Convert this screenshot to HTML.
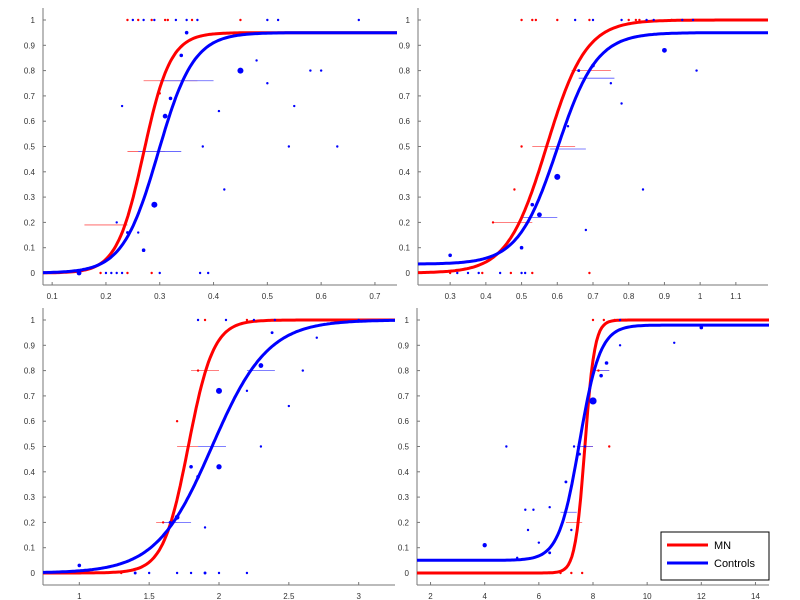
<!DOCTYPE html>
<html><head><meta charset="utf-8"><style>
body{margin:0;background:#fff;}
svg{display:block;font-family:"Liberation Sans",sans-serif;}
</style></head><body>
<svg id="c" width="800" height="600"></svg>
<script>
// panel configs (axis ranges and ticks)
const xDomains=[[0.083,0.741],[0.21,1.19],[0.74,3.26],[1.5,14.5]];
const xTicks=[[0.1,0.2,0.3,0.4,0.5,0.6,0.7],[0.3,0.4,0.5,0.6,0.7,0.8,0.9,1,1.1],[1,1.5,2,2.5,3],[2,4,6,8,10,12,14]];
const yTicks=[0,0.1,0.2,0.3,0.4,0.5,0.6,0.7,0.8,0.9,1];
// logistic params [min,max,mid,scale]
const redCurves=[[0,0.95,0.27,0.025],[0,1,0.57,0.055],[0,1,1.78,0.09],[0,1,7.7,0.18]];
const blueCurves=[[0,0.95,0.297,0.033],[0.035,0.95,0.6,0.055],[0,1,1.95,0.2],[0.05,0.98,7.5,0.38]];
// scatter: [x,y,size]
const redPts=[
[[0.24,1,1],[0.26,1,1],[0.285,1,1],[0.31,1,1],[0.315,1,1],[0.36,1,1],[0.45,1,1],[0.15,0,1],[0.19,0,1],[0.24,0,1],[0.285,0,1],[0.3,0.71,1]],
[[0.5,1,1],[0.53,1,1],[0.54,1,1],[0.6,1,1],[0.69,1,1],[0.8,1,1],[0.82,1,1],[0.83,1,1],[0.92,1,1],[0.5,0.5,1],[0.42,0.2,1],[0.48,0.33,1],[0.3,0,1],[0.39,0,1],[0.47,0,1],[0.53,0,1],[0.69,0,1]],
[[1.9,1,1],[2.2,1,1],[1.7,0.6,1],[1.85,0.8,1],[1.3,0,1],[1.6,0.2,1]],
[[8,1,1],[8.4,1,1],[8.8,1,1],[9.2,1,1],[9.6,1,1],[8.6,0.5,1],[8.2,0.8,1],[6.4,0,1],[6.8,0,1],[7.2,0,1],[7.6,0,1]]];
const bluePts=[
[[0.25,1,1],[0.27,1,1],[0.29,1,1],[0.33,1,1],[0.35,1,1],[0.37,1,1],[0.5,1,1],[0.52,1,1],[0.67,1,1],[0.35,0.95,1.5],[0.34,0.86,1.5],[0.31,0.62,2],[0.32,0.69,1.5],[0.45,0.8,2.5],[0.29,0.27,2.5],[0.27,0.09,1.5],[0.24,0.16,1.2],[0.26,0.16,1],[0.22,0.2,1],[0.23,0.66,1],[0.42,0.33,1],[0.38,0.5,1],[0.55,0.66,1],[0.58,0.8,1],[0.6,0.8,1],[0.63,0.5,1],[0.54,0.5,1],[0.48,0.84,1],[0.5,0.75,1],[0.41,0.64,1],[0.15,0,2],[0.2,0,1],[0.21,0,1],[0.22,0,1],[0.23,0,1],[0.3,0,1],[0.375,0,1],[0.39,0,1]],
[[0.65,1,1],[0.7,1,1],[0.78,1,1],[0.85,1,1],[0.87,1,1],[0.95,1,1],[0.98,1,1],[0.6,0.38,2.5],[0.55,0.23,2],[0.53,0.27,1.5],[0.5,0.1,1.5],[0.3,0.07,1.5],[0.9,0.88,2],[0.7,0.82,1.5],[0.66,0.8,1.2],[0.75,0.75,1],[0.78,0.67,1],[0.99,0.8,1],[0.84,0.33,1],[0.68,0.17,1],[0.62,0.57,1],[0.63,0.58,1],[0.32,0,1],[0.35,0,1],[0.38,0,1],[0.44,0,1],[0.5,0,1],[0.51,0,1]],
[[1.85,1,1],[2.05,1,1],[2.25,1,1],[2.4,1,1],[3,1,1],[2,0.72,2.5],[2,0.42,2.2],[1.8,0.42,1.5],[1.85,0.38,1.5],[1.7,0.22,2],[1.65,0.2,1.2],[1,0.03,1.5],[2.3,0.82,2],[2.38,0.95,1.2],[2.2,0.72,1],[2.1,0.68,1],[2.3,0.5,1],[2.5,0.66,1],[2.6,0.8,1],[2.7,0.93,1],[1.9,0.18,1],[1.4,0,1.2],[1.5,0,1],[1.7,0,1],[1.8,0,1],[1.9,0,1.2],[2,0,1],[2.2,0,1]],
[[9,1,1],[12,0.97,1.5],[8,0.68,3],[8.3,0.78,1.5],[8.5,0.83,1.5],[9,0.9,1],[11,0.91,1],[7.5,0.47,1.2],[7.3,0.5,1],[7.2,0.17,1],[7,0.36,1.2],[6.4,0.26,1],[6.4,0.08,1.2],[6,0.12,1],[5.2,0.06,1],[4,0.11,1.8],[4.8,0.5,1],[5.5,0.25,1],[5.8,0.25,1],[5.6,0.17,1],[7.7,0.5,1]]];
// error bars [y,x0,x1]
const redBars=[[[0.19,0.16,0.24],[0.48,0.24,0.31],[0.76,0.27,0.37]],[[0.2,0.42,0.53],[0.5,0.53,0.65],[0.8,0.64,0.75]],[[0.2,1.55,1.7],[0.5,1.7,1.85],[0.8,1.8,2.0]],[[0.2,7.0,7.6],[0.5,7.6,8.0],[0.8,8.0,8.6]]];
const blueBars=[[[0.48,0.26,0.34],[0.76,0.3,0.4]],[[0.22,0.5,0.6],[0.49,0.58,0.68],[0.77,0.66,0.76]],[[0.2,1.6,1.8],[0.5,1.85,2.05],[0.8,2.2,2.4]],[[0.24,6.8,7.4],[0.5,7.4,8.0],[0.8,8.2,8.6]]];

const boxes=[[43,397,20,273,285],[418,768,20,273,285],[43,395,320,573,585],[417,769,320,573,585]];
const NS='http://www.w3.org/2000/svg';
const svg=document.getElementById('c');
function mk(t,a,p){const e=document.createElementNS(NS,t);for(const k in a)e.setAttribute(k,a[k]);(p||svg).appendChild(e);return e;}
const names=['top-left','top-right','bottom-left','bottom-right'];
for(let i=0;i<4;i++){
 const [L,R,T,B,AX]=boxes[i],[d0,d1]=xDomains[i];
 const sx=v=>L+(v-d0)/(d1-d0)*(R-L), sy=v=>B-(v)*(B-T);
 const g=mk('g',{});
 
 
 const ax=mk('g',{},g);
 
 
 mk('line',{x1:L,y1:T-12,x2:L,y2:AX,stroke:'#777','stroke-width':1},ax);
 mk('line',{x1:L,y1:AX,x2:R,y2:AX,stroke:'#777','stroke-width':1},ax);
 xTicks[i].forEach(v=>{const x=sx(v);mk('line',{x1:x,y1:AX,x2:x,y2:AX-3,stroke:'#777'},ax);
  const t=mk('text',{x:x,y:AX+14,'font-size':8,'text-anchor':'middle',fill:'#333'},ax);t.textContent=v;
  });
 yTicks.forEach(v=>{const y=sy(v);mk('line',{x1:L,y1:y,x2:L+3,y2:y,stroke:'#777'},ax);
  const t=mk('text',{x:L-8,y:y+3,'font-size':8,'text-anchor':'end',fill:'#333'},ax);t.textContent=v;
  });
 [[redBars,'#ff5555'],[blueBars,'#5555ff']].forEach(([bs,c])=>bs[i].forEach(b=>{
  const l=mk('line',{x1:sx(b[1]),x2:sx(b[2]),y1:sy(b[0]),y2:sy(b[0]),stroke:c,'stroke-width':0.8},g);
  }));
 [[redCurves,'#ff0000','red'],[blueCurves,'#0000ff','blue']].forEach(([cv,c,n])=>{
  const [lo,hi,m,s]=cv[i];let d='';
  for(let k=0;k<=200;k++){const v=d0+(d1-d0)*k/200;const y=lo+(hi-lo)/(1+Math.exp(-(v-m)/s));d+=(k?'L':'M')+sx(v).toFixed(1)+','+sy(y).toFixed(1);}
  const p=mk('path',{d:d,fill:'none',stroke:c,'stroke-width':3},g);
  });
 [[redPts,'#ff0000'],[bluePts,'#0000ff']].forEach(([ps,c])=>ps[i].forEach(p=>{
  const e=mk('circle',{cx:sx(p[0]),cy:sy(p[1]),r:1.2*p[2],fill:c},g);
  }));
}
const lg=mk('g',{});


mk('rect',{x:661,y:532,width:108,height:48,fill:'#fff',stroke:'#000','stroke-width':1},lg);
mk('line',{x1:667,y1:545,x2:708,y2:545,stroke:'#ff0000','stroke-width':3},lg);
mk('line',{x1:667,y1:563,x2:708,y2:563,stroke:'#0000ff','stroke-width':3},lg);
const t1=mk('text',{x:714,y:549,'font-size':11},lg);t1.textContent='MN';

const t2=mk('text',{x:714,y:567,'font-size':11},lg);t2.textContent='Controls';

</script>
</body></html>
